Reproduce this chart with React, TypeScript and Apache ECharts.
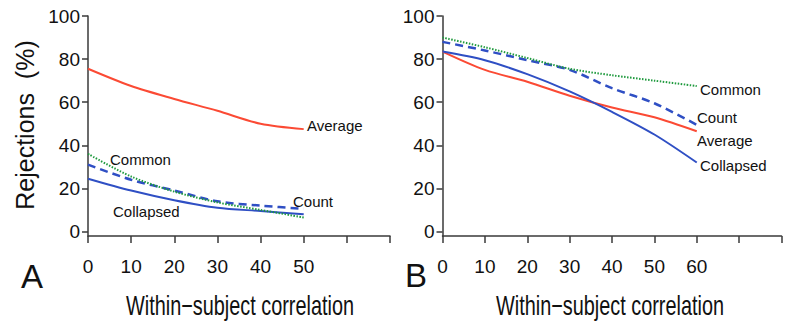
import React, { useEffect, useRef } from "react";
import * as echarts from "echarts";

// Panel A data
const xA = [0, 10, 20, 30, 40, 50];
const averageA = [75.5, 67.5, 61.5, 56, 50, 47.5];
const commonA = [36, 25.5, 18.5, 13.5, 10, 6.5];
const countA = [31, 24, 19, 14, 12, 10.5];
const collapsedA = [24.5, 19, 14.5, 11, 9.5, 8];

// Panel B data
const xB = [0, 10, 20, 30, 40, 50, 60];
const averageB = [83.5, 75, 69.5, 63, 57.5, 53, 46.5];
const commonB = [90, 85.5, 80.5, 75.5, 72.5, 70, 67.5];
const countB = [88, 84, 79.5, 75, 66.5, 59.5, 49.5];
const collapsedB = [83.5, 79.5, 73, 65, 55.5, 45, 32];

const yTicks = [0, 20, 40, 60, 80, 100];
const xTicksA = [0, 10, 20, 30, 40, 50, 60, 70];
const xLabelsA = [0, 10, 20, 30, 40, 50];
const xTicksB = [0, 10, 20, 30, 40, 50, 60, 70, 80];
const xLabelsB = [0, 10, 20, 30, 40, 50, 60];

const RED = "#fb4a34";
const BLUE = "#2f4fc4";
const GREEN = "#1f9a3e";
const AXIS = "#3a3a3a";
const SANS = "'Liberation Sans', Arial, sans-serif";

const zip = (xs: number[], ys: number[]) => xs.map((x, i) => [x, ys[i]]);

function yAxis(gridIndex: number) {
  return {
    gridIndex,
    type: "value",
    min: -2.1,
    max: 100,
    axisLine: { show: true, lineStyle: { color: AXIS, width: 1.5 } },
    axisTick: { show: true, length: 6, customValues: yTicks, lineStyle: { color: AXIS, width: 1.5 } },
    axisLabel: { customValues: yTicks, fontFamily: SANS, fontSize: 19, color: "#111", margin: 8 },
    splitLine: { show: false },
  };
}

function xAxis(gridIndex: number, max: number, ticks: number[], labels: number[]) {
  return {
    gridIndex,
    type: "value",
    min: 0,
    max,
    interval: 10,
    axisLine: { show: true, onZero: false, lineStyle: { color: AXIS, width: 1.5 } },
    axisTick: { show: true, length: 7, customValues: ticks, lineStyle: { color: AXIS, width: 1.5 } },
    axisLabel: { customValues: labels, fontFamily: SANS, fontSize: 19, color: "#111", margin: 21 },
    splitLine: { show: false },
  };
}

function line(name: string, idx: number, xs: number[], ys: number[], color: string, type: any, width: number) {
  return {
    name,
    type: "line",
    xAxisIndex: idx,
    yAxisIndex: idx,
    data: zip(xs, ys),
    smooth: 0.3,
    symbol: "none",
    lineStyle: { color, width, type },
  };
}

function label(text: string, x: number, y: number) {
  return {
    type: "text",
    x,
    y,
    style: { text, fill: "#111", font: `15px ${SANS}`, textVerticalAlign: "middle", textAlign: "left" },
  };
}

function xTitle(x: number) {
  return {
    type: "text",
    x,
    y: 305,
    scaleX: 0.71,
    style: { text: "Within\u2212subject correlation", fill: "#111", font: `28px ${SANS}`, textAlign: "center", textVerticalAlign: "middle" },
  };
}

export default function App() {
  const ref = useRef<HTMLDivElement>(null);
  useEffect(() => {
    if (!ref.current) return;
    const chart = echarts.init(ref.current, undefined, { renderer: "svg" });
    chart.setOption({
      animation: false,
      backgroundColor: "#ffffff",
      grid: [
        { left: 88, top: 16, width: 302, height: 220 },
        { left: 442.5, top: 16, width: 339, height: 220 },
      ],
      xAxis: [xAxis(0, 70, xTicksA, xLabelsA), xAxis(1, 80, xTicksB, xLabelsB)],
      yAxis: [yAxis(0), yAxis(1)],
      series: [
        line("Average", 0, xA, averageA, RED, "solid", 2),
        line("Collapsed", 0, xA, collapsedA, BLUE, "solid", 2),
        line("Count", 0, xA, countA, BLUE, [8, 5], 2.5),
        line("Common", 0, xA, commonA, GREEN, [1.5, 1.5], 2),
        line("Average", 1, xB, averageB, RED, "solid", 2),
        line("Collapsed", 1, xB, collapsedB, BLUE, "solid", 2),
        line("Count", 1, xB, countB, BLUE, [8, 5], 2.5),
        line("Common", 1, xB, commonB, GREEN, [1.5, 1.5], 2),
      ],
      graphic: [
        label("Average", 307, 125),
        label("Common", 110, 159),
        label("Count", 293, 201),
        label("Collapsed", 113, 211),
        label("Common", 700, 89),
        label("Count", 697, 117),
        label("Average", 697, 140),
        label("Collapsed", 700, 165),
        {
          type: "text",
          x: 25,
          y: 125,
          rotation: Math.PI / 2,
          style: { text: "Rejections  (%)", fill: "#111", font: `25px ${SANS}`, textAlign: "center", textVerticalAlign: "middle" },
        },
        xTitle(240),
        xTitle(610),
        {
          type: "text",
          x: 32,
          y: 276,
          style: { text: "A", fill: "#111", font: `33px ${SANS}`, textAlign: "center", textVerticalAlign: "middle" },
        },
        {
          type: "text",
          x: 416,
          y: 275,
          style: { text: "B", fill: "#111", font: `33px ${SANS}`, textAlign: "center", textVerticalAlign: "middle" },
        },
      ],
    });
    return () => chart.dispose();
  }, []);
  return <div ref={ref} style={{ position: "absolute", left: 0, top: 0, width: 788, height: 325 }} />;
}
